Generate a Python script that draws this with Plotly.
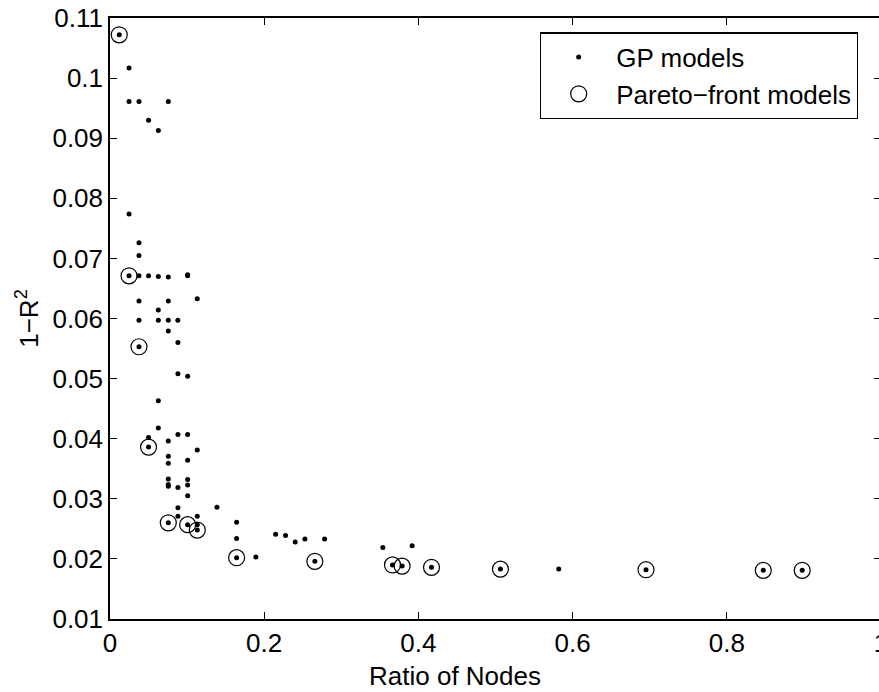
import plotly.graph_objects as go

# GP models (all evaluated models)
gp_x = [0.012, 0.0247, 0.0247, 0.0376, 0.0756, 0.050, 0.0627,
        0.0247, 0.0376, 0.0376, 0.0247, 0.0376, 0.050, 0.0627, 0.0756, 0.1007, 0.1007,
        0.0376, 0.0756, 0.1132, 0.0627, 0.0376, 0.0627, 0.0756, 0.0880,
        0.0756, 0.0881, 0.0376, 0.0881, 0.1007, 0.0627, 0.0627, 0.0881, 0.1007,
        0.050, 0.050, 0.0756, 0.1132, 0.0756, 0.0756, 0.1007, 0.0756, 0.1007,
        0.0756, 0.0756, 0.1007, 0.0881, 0.1007, 0.0881, 0.1387, 0.0881, 0.1132,
        0.0756, 0.1007, 0.1132, 0.1132, 0.1642, 0.1642, 0.1642, 0.1892,
        0.2148, 0.2277, 0.2402, 0.2528, 0.2783, 0.2657, 0.3539, 0.3664, 0.3789,
        0.3919, 0.417, 0.5064, 0.582, 0.6952, 0.8473, 0.8978]
gp_y = [0.1072, 0.1017, 0.0961, 0.0961, 0.0961, 0.0930, 0.0913,
        0.0774, 0.0726, 0.0705, 0.0671, 0.0671, 0.0671, 0.0670, 0.0669, 0.0673, 0.0671,
        0.0629, 0.0629, 0.0633, 0.0614, 0.0597, 0.0597, 0.0597, 0.0597,
        0.0579, 0.0560, 0.0553, 0.0508, 0.0504, 0.0463, 0.0418, 0.0407, 0.0407,
        0.0402, 0.0386, 0.0396, 0.0381, 0.0371, 0.0359, 0.0364, 0.0333, 0.0332,
        0.0324, 0.0321, 0.0323, 0.0319, 0.0305, 0.0285, 0.0286, 0.0271, 0.0271,
        0.0260, 0.0257, 0.0257, 0.0248, 0.0261, 0.0234, 0.0202, 0.0203,
        0.0241, 0.0239, 0.0228, 0.0233, 0.0233, 0.0196, 0.0219, 0.0190, 0.0188,
        0.0222, 0.0186, 0.0183, 0.0183, 0.0182, 0.0181, 0.0181]

# Pareto-front models
pf_x = [0.012, 0.0247, 0.0376, 0.050, 0.0756, 0.1007, 0.1132, 0.1642,
        0.2657, 0.3664, 0.3789, 0.417, 0.5064, 0.6952, 0.8473, 0.8978]
pf_y = [0.1072, 0.0671, 0.0553, 0.0386, 0.0260, 0.0257, 0.0248, 0.0202,
        0.0196, 0.0190, 0.0188, 0.0186, 0.0183, 0.0182, 0.0181, 0.0181]

x_ticks = [0, 0.2, 0.4, 0.6, 0.8, 1]
x_tick_labels = ["0", "0.2", "0.4", "0.6", "0.8", "1"]
y_ticks = [0.01, 0.02, 0.03, 0.04, 0.05, 0.06, 0.07, 0.08, 0.09, 0.10, 0.11]
y_tick_labels = ["0.01", "0.02", "0.03", "0.04", "0.05", "0.06", "0.07", "0.08", "0.09", "0.1", "0.11"]

fig = go.Figure()
fig.add_trace(go.Scatter(x=gp_x, y=gp_y, mode="markers", name="GP models",
                         marker=dict(symbol="circle", size=5, color="black")))
fig.add_trace(go.Scatter(x=pf_x, y=pf_y, mode="markers", name="Pareto\u2212front models",
                         marker=dict(symbol="circle-open", size=16, color="black",
                                     line=dict(width=1.2, color="black"))))

font = dict(family="Liberation Sans, Arial, sans-serif", size=26, color="black")
fig.update_layout(
    width=900, height=692,
    margin=dict(l=110, r=19, t=17.5, b=73),
    paper_bgcolor="white", plot_bgcolor="white",
    font=font,
    showlegend=True,
    legend=dict(x=0.5577, y=0.976, xanchor="left", yanchor="top",
                bordercolor="black", borderwidth=1.2, bgcolor="white",
                font=font, tracegroupgap=0, itemwidth=65),
    xaxis=dict(range=[0, 1], tickvals=x_ticks, ticktext=x_tick_labels,
               ticks="inside", ticklen=7, tickcolor="black", tickwidth=1,
               showline=True, linecolor="black", linewidth=1.5, mirror="ticks",
               showgrid=False, zeroline=False, automargin=False,
               tickfont=font),
    yaxis=dict(range=[0.01, 0.11], tickvals=y_ticks, ticktext=y_tick_labels,
               ticks="inside", ticklen=7, tickcolor="black", tickwidth=1,
               showline=True, linecolor="black", linewidth=1.5, mirror="ticks",
               showgrid=False, zeroline=False, automargin=False,
               tickfont=font,
               title=dict(text="1\u2212R<sup>2</sup>", standoff=6, font=font)),
    annotations=[dict(text="Ratio of Nodes", xref="paper", yref="paper",
                      x=0.4475, y=-0.0948, xanchor="center", yanchor="middle",
                      showarrow=False, font=font)],
)
post = ("document.body.style.margin='0';"
        "document.body.style.overflow='hidden';"
        "document.documentElement.style.overflow='hidden';")
fig.write_html("out.html", post_script=post, config={"displayModeBar": False})
